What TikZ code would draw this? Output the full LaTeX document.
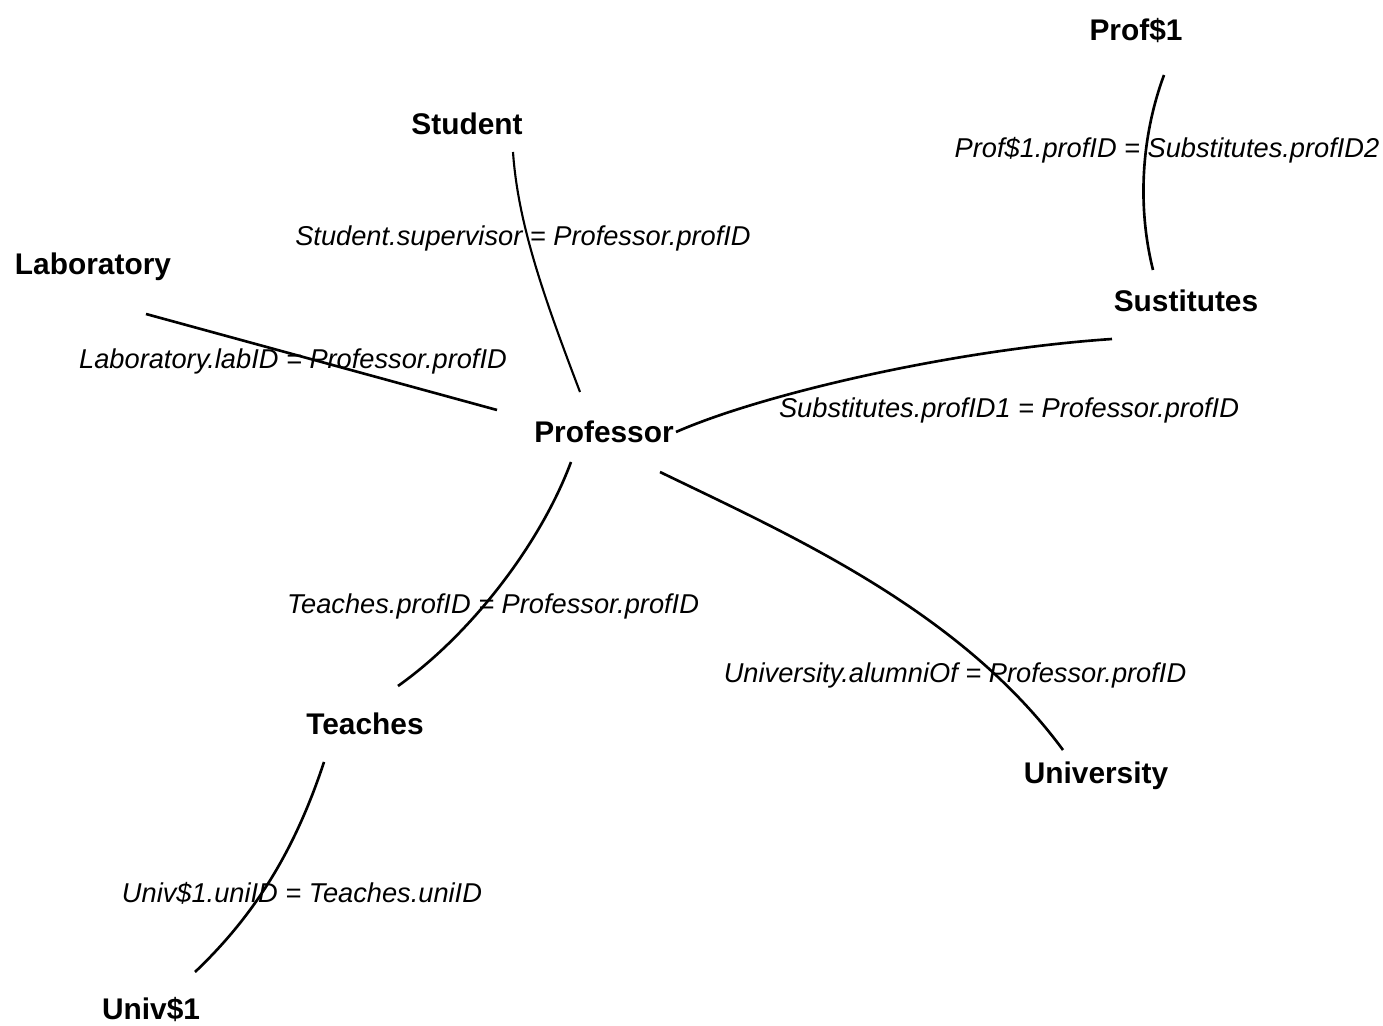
\documentclass[tikz,border=0pt]{standalone}
\usepackage{fontspec}
\setmainfont{Liberation Sans}
\begin{document}
\begin{tikzpicture}[x=0.02cm,y=-0.02cm,
  entity/.style={font=\fontsize{17}{20}\selectfont\bfseries, inner sep=0pt},
  joincond/.style={font=\fontsize{15.5}{18}\selectfont\itshape, inner sep=0pt},
  link/.style={line width=1.5pt}]
  \useasboundingbox (0,0) rectangle (1383,1026);

  % tables
  \node[entity] (prof1) at (1136,31) {Prof\$1};
  \node[entity] (student) at (467,124) {Student};
  \node[entity] (lab) at (93,267) {Laboratory};
  \node[entity] (subst) at (1186,301) {Sustitutes};
  \node[entity] (professor) at (604,432) {Professor};
  \node[entity] (teaches) at (365,724) {Teaches};
  \node[entity] (univ) at (1096,776) {University};
  \node[entity] (univ1) at (151,1010) {Univ\$1};

  % end points of the join lines
  \coordinate (p1s) at ([shift={(28,44)}]prof1.center);
  \coordinate (sp1) at ([shift={(-33,-31)}]subst.center);
  \coordinate (st) at ([shift={(46,28)}]student.center);
  \coordinate (pst) at ([shift={(-24,-40)}]professor.center);
  \coordinate (la) at ([shift={(53,47)}]lab.center);
  \coordinate (pla) at ([shift={(-107,-22)}]professor.center);
  \coordinate (sb) at ([shift={(-74,38)}]subst.center);
  \coordinate (psb) at ([shift={(72,0)}]professor.center);
  \coordinate (te) at ([shift={(33,-38)}]teaches.center);
  \coordinate (pte) at ([shift={(-33,30)}]professor.center);
  \coordinate (un) at ([shift={(-33,-26)}]univ.center);
  \coordinate (pun) at ([shift={(56,40)}]professor.center);
  \coordinate (tu) at ([shift={(-41,38)}]teaches.center);
  \coordinate (u1) at ([shift={(44,-38)}]univ1.center);

  % join lines
  \draw[link] (p1s) .. controls (1140,140) and (1138,210) .. (sp1);
  \draw[line width=1.2pt] (st) .. controls (518,225) and (545,300) .. (pst);
  \draw[link] (la) -- (pla);
  \draw[link] (psb) .. controls (760,395) and (950,350) .. (sb);
  \draw[link] (pte) .. controls (540,545) and (470,635) .. (te);
  \draw[link] (pun) .. controls (790,535) and (960,610) .. (un);
  \draw[link] (tu) .. controls (295,850) and (255,915) .. (u1);

  % join conditions
  \node[joincond] (c1) at (1167,150) {Prof\$1.profID = Substitutes.profID2};
  \node[joincond] (c2) at (523,238) {Student.supervisor = Professor.profID};
  \node[joincond] (c3) at (293,361) {Laboratory.labID = Professor.profID};
  \node[joincond] (c4) at (1009,410) {Substitutes.profID1 = Professor.profID};
  \node[joincond] (c5) at (493,606) {Teaches.profID = Professor.profID};
  \node[joincond] (c6) at (955,675) {University.alumniOf = Professor.profID};
  \node[joincond] (c7) at (302,893) {Univ\$1.uniID = Teaches.uniID};
\end{tikzpicture}
\end{document}
